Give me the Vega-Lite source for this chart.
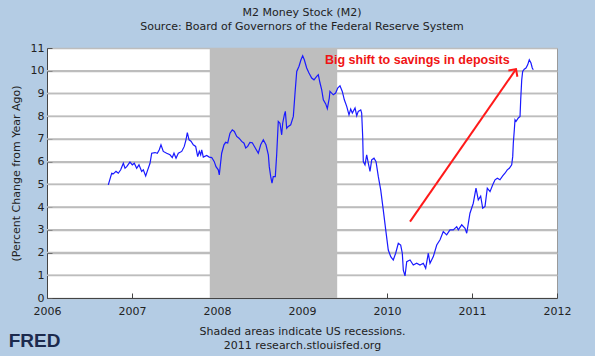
{
  "$schema": "https://vega.github.io/schema/vega-lite/v6.json",
  "width": 510,
  "height": 250,
  "autosize": {"type": "none"},
  "padding": {"left": 47, "top": 48, "right": 38, "bottom": 58},
  "background": "#b4cce4",
  "title": {
    "text": "M2 Money Stock (M2)",
    "subtitle": "Source: Board of Governors of the Federal Reserve System",
    "anchor": "middle",
    "font": "DejaVu Sans",
    "fontSize": 11,
    "fontWeight": "normal",
    "color": "#222222",
    "subtitleFont": "DejaVu Sans",
    "subtitleFontSize": 11,
    "subtitleColor": "#222222",
    "subtitlePadding": 3,
    "offset": 10
  },
  "config": {
    "font": "DejaVu Sans",
    "view": {"fill": "white", "stroke": "#9a9a9a", "strokeWidth": 1},
    "axisX": {
      "format": "d",
      "grid": false,
      "tickSize": -5,
      "tickColor": "#444444",
      "domainColor": "#444444",
      "labelFont": "DejaVu Sans",
      "labelFontSize": 11,
      "labelColor": "#222222",
      "labelPadding": 12,
      "labelFlush": false,
      "labelOverlap": false,
      "titleFont": "DejaVu Sans",
      "titleFontSize": 11,
      "titleFontWeight": "normal",
      "titleColor": "#222222",
      "titleLineHeight": 14,
      "titlePadding": 9
    },
    "axisY": {
      "format": "d",
      "grid": true,
      "gridColor": "#bdbdbd",
      "gridWidth": 1.5,
      "tickSize": -5,
      "tickColor": "#555555",
      "domainColor": "#444444",
      "labelFont": "DejaVu Sans",
      "labelFontSize": 11,
      "labelColor": "#222222",
      "labelPadding": 8,
      "labelOverlap": false,
      "titleFont": "DejaVu Sans",
      "titleFontSize": 11,
      "titleFontWeight": "normal",
      "titleColor": "#222222",
      "titlePadding": 9
    }
  },
  "datasets": {
    "gridLevels": [
      {"level": 1}, {"level": 2}, {"level": 3}, {"level": 4}, {"level": 5},
      {"level": 6}, {"level": 7}, {"level": 8}, {"level": 9}, {"level": 10}
    ],
    "recessions": [{"start": 2007.915, "end": 2009.414}],
    "m2": [
      {"date": 2006.721, "pct": 4.98}, {"date": 2006.761, "pct": 5.49}, {"date": 2006.780, "pct": 5.46},
      {"date": 2006.812, "pct": 5.57}, {"date": 2006.839, "pct": 5.49}, {"date": 2006.867, "pct": 5.64},
      {"date": 2006.898, "pct": 5.93}, {"date": 2006.918, "pct": 5.71}, {"date": 2006.938, "pct": 5.78},
      {"date": 2006.976, "pct": 5.98}, {"date": 2007.004, "pct": 5.86}, {"date": 2007.027, "pct": 5.93},
      {"date": 2007.055, "pct": 5.71}, {"date": 2007.082, "pct": 5.86}, {"date": 2007.114, "pct": 5.57},
      {"date": 2007.133, "pct": 5.64}, {"date": 2007.161, "pct": 5.37}, {"date": 2007.185, "pct": 5.64},
      {"date": 2007.212, "pct": 5.93}, {"date": 2007.232, "pct": 6.37}, {"date": 2007.271, "pct": 6.40},
      {"date": 2007.298, "pct": 6.37}, {"date": 2007.321, "pct": 6.52}, {"date": 2007.341, "pct": 6.74},
      {"date": 2007.368, "pct": 6.45}, {"date": 2007.408, "pct": 6.37}, {"date": 2007.447, "pct": 6.30},
      {"date": 2007.474, "pct": 6.18}, {"date": 2007.494, "pct": 6.37}, {"date": 2007.518, "pct": 6.15},
      {"date": 2007.545, "pct": 6.37}, {"date": 2007.585, "pct": 6.45}, {"date": 2007.615, "pct": 6.67},
      {"date": 2007.635, "pct": 6.96}, {"date": 2007.651, "pct": 7.28}, {"date": 2007.671, "pct": 6.96},
      {"date": 2007.694, "pct": 6.90}, {"date": 2007.721, "pct": 6.74}, {"date": 2007.749, "pct": 6.67},
      {"date": 2007.773, "pct": 6.22}, {"date": 2007.792, "pct": 6.45}, {"date": 2007.808, "pct": 6.30},
      {"date": 2007.820, "pct": 6.52}, {"date": 2007.839, "pct": 6.20}, {"date": 2007.879, "pct": 6.27},
      {"date": 2007.909, "pct": 6.20}, {"date": 2007.938, "pct": 6.18}, {"date": 2007.968, "pct": 6.00},
      {"date": 2007.988, "pct": 5.78}, {"date": 2008.015, "pct": 5.64}, {"date": 2008.027, "pct": 5.42},
      {"date": 2008.055, "pct": 6.37}, {"date": 2008.082, "pct": 6.74}, {"date": 2008.102, "pct": 6.85},
      {"date": 2008.126, "pct": 6.82}, {"date": 2008.153, "pct": 7.25}, {"date": 2008.180, "pct": 7.40},
      {"date": 2008.204, "pct": 7.33}, {"date": 2008.232, "pct": 7.11}, {"date": 2008.259, "pct": 7.03},
      {"date": 2008.291, "pct": 6.89}, {"date": 2008.318, "pct": 6.81}, {"date": 2008.338, "pct": 6.60},
      {"date": 2008.361, "pct": 6.67}, {"date": 2008.388, "pct": 6.85}, {"date": 2008.415, "pct": 6.83},
      {"date": 2008.447, "pct": 6.62}, {"date": 2008.486, "pct": 6.37}, {"date": 2008.514, "pct": 6.74},
      {"date": 2008.545, "pct": 6.96}, {"date": 2008.576, "pct": 6.74}, {"date": 2008.604, "pct": 6.30},
      {"date": 2008.615, "pct": 5.78}, {"date": 2008.632, "pct": 5.34}, {"date": 2008.647, "pct": 5.05},
      {"date": 2008.662, "pct": 5.34}, {"date": 2008.686, "pct": 5.34}, {"date": 2008.702, "pct": 6.30},
      {"date": 2008.721, "pct": 7.77}, {"date": 2008.741, "pct": 7.69}, {"date": 2008.761, "pct": 7.18},
      {"date": 2008.773, "pct": 7.69}, {"date": 2008.792, "pct": 8.06}, {"date": 2008.804, "pct": 8.21},
      {"date": 2008.820, "pct": 7.47}, {"date": 2008.839, "pct": 7.55}, {"date": 2008.867, "pct": 7.62},
      {"date": 2008.898, "pct": 7.99}, {"date": 2008.918, "pct": 9.02}, {"date": 2008.938, "pct": 9.97},
      {"date": 2008.965, "pct": 10.20}, {"date": 2008.988, "pct": 10.48}, {"date": 2009.008, "pct": 10.66},
      {"date": 2009.027, "pct": 10.48}, {"date": 2009.055, "pct": 10.12}, {"date": 2009.082, "pct": 9.90},
      {"date": 2009.114, "pct": 9.68}, {"date": 2009.141, "pct": 9.60}, {"date": 2009.173, "pct": 9.75},
      {"date": 2009.192, "pct": 9.82}, {"date": 2009.212, "pct": 9.46}, {"date": 2009.232, "pct": 9.16},
      {"date": 2009.251, "pct": 8.72}, {"date": 2009.279, "pct": 8.54}, {"date": 2009.298, "pct": 8.33},
      {"date": 2009.321, "pct": 8.80}, {"date": 2009.329, "pct": 9.09}, {"date": 2009.368, "pct": 8.94},
      {"date": 2009.396, "pct": 9.02}, {"date": 2009.420, "pct": 9.24}, {"date": 2009.447, "pct": 9.34},
      {"date": 2009.474, "pct": 9.09}, {"date": 2009.498, "pct": 8.72}, {"date": 2009.526, "pct": 8.43},
      {"date": 2009.553, "pct": 8.06}, {"date": 2009.573, "pct": 8.31}, {"date": 2009.592, "pct": 8.14},
      {"date": 2009.624, "pct": 8.36}, {"date": 2009.644, "pct": 8.02}, {"date": 2009.662, "pct": 8.21},
      {"date": 2009.691, "pct": 8.28}, {"date": 2009.702, "pct": 8.14}, {"date": 2009.714, "pct": 7.11},
      {"date": 2009.721, "pct": 6.00}, {"date": 2009.741, "pct": 5.86}, {"date": 2009.761, "pct": 6.30},
      {"date": 2009.780, "pct": 5.93}, {"date": 2009.800, "pct": 5.57}, {"date": 2009.820, "pct": 6.08},
      {"date": 2009.847, "pct": 6.15}, {"date": 2009.871, "pct": 6.00}, {"date": 2009.898, "pct": 5.34},
      {"date": 2009.926, "pct": 4.76}, {"date": 2009.956, "pct": 3.88}, {"date": 2009.985, "pct": 3.00},
      {"date": 2010.015, "pct": 2.11}, {"date": 2010.044, "pct": 1.82}, {"date": 2010.074, "pct": 1.67},
      {"date": 2010.102, "pct": 1.97}, {"date": 2010.133, "pct": 2.41}, {"date": 2010.161, "pct": 2.33},
      {"date": 2010.180, "pct": 1.97}, {"date": 2010.192, "pct": 1.23}, {"date": 2010.212, "pct": 0.97},
      {"date": 2010.232, "pct": 1.60}, {"date": 2010.271, "pct": 1.67}, {"date": 2010.309, "pct": 1.45},
      {"date": 2010.349, "pct": 1.53}, {"date": 2010.388, "pct": 1.45}, {"date": 2010.427, "pct": 1.53},
      {"date": 2010.455, "pct": 1.31}, {"date": 2010.486, "pct": 1.97}, {"date": 2010.506, "pct": 1.53},
      {"date": 2010.545, "pct": 1.82}, {"date": 2010.585, "pct": 2.33}, {"date": 2010.624, "pct": 2.56},
      {"date": 2010.662, "pct": 2.92}, {"date": 2010.702, "pct": 2.78}, {"date": 2010.741, "pct": 3.00},
      {"date": 2010.780, "pct": 3.00}, {"date": 2010.820, "pct": 3.14}, {"date": 2010.839, "pct": 3.00},
      {"date": 2010.879, "pct": 3.22}, {"date": 2010.918, "pct": 3.07}, {"date": 2010.938, "pct": 2.85},
      {"date": 2010.976, "pct": 3.73}, {"date": 2011.015, "pct": 4.17}, {"date": 2011.047, "pct": 4.83},
      {"date": 2011.074, "pct": 4.32}, {"date": 2011.102, "pct": 4.48}, {"date": 2011.126, "pct": 3.95},
      {"date": 2011.153, "pct": 4.03}, {"date": 2011.180, "pct": 4.83}, {"date": 2011.212, "pct": 4.68},
      {"date": 2011.244, "pct": 4.98}, {"date": 2011.271, "pct": 5.20}, {"date": 2011.298, "pct": 5.27},
      {"date": 2011.329, "pct": 5.20}, {"date": 2011.361, "pct": 5.37}, {"date": 2011.388, "pct": 5.49},
      {"date": 2011.415, "pct": 5.64}, {"date": 2011.439, "pct": 5.71}, {"date": 2011.467, "pct": 5.86},
      {"date": 2011.479, "pct": 6.22}, {"date": 2011.486, "pct": 6.81}, {"date": 2011.498, "pct": 7.40},
      {"date": 2011.506, "pct": 7.84}, {"date": 2011.518, "pct": 7.77}, {"date": 2011.545, "pct": 7.92},
      {"date": 2011.565, "pct": 7.99}, {"date": 2011.573, "pct": 8.72}, {"date": 2011.585, "pct": 9.60},
      {"date": 2011.596, "pct": 9.97}, {"date": 2011.615, "pct": 10.07}, {"date": 2011.635, "pct": 10.12},
      {"date": 2011.655, "pct": 10.26}, {"date": 2011.674, "pct": 10.48}, {"date": 2011.694, "pct": 10.34},
      {"date": 2011.709, "pct": 10.12}, {"date": 2011.721, "pct": 10.04}
    ],
    "arrow": [{"fromDate": 2010.271, "fromPct": 3.36, "toDate": 2011.518, "toPct": 10.07}],
    "note": [{"date": 2009.27, "pct": 10.48, "label": "Big shift to savings in deposits"}]
  },
  "layer": [
    {
      "data": {"name": "gridLevels"},
      "mark": {"type": "rule", "color": "#bdbdbd", "strokeWidth": 1.5},
      "encoding": {
        "y": {"field": "level", "type": "quantitative",
              "scale": {"domain": [0, 11], "nice": false},
              "axis": {"values": [0, 1, 2, 3, 4, 5, 6, 7, 8, 9, 10, 11], "grid": true, "title": "(Percent Change from Year Ago)"}}
      }
    },
    {
      "data": {"name": "recessions"},
      "mark": {"type": "rect", "color": "#bebebe"},
      "encoding": {
        "x": {"field": "start", "type": "quantitative",
              "scale": {"domain": [2006, 2012], "nice": false, "zero": false},
              "axis": {"values": [2006, 2007, 2008, 2009, 2010, 2011, 2012], "title": ["Shaded areas indicate US recessions.", "2011 research.stlouisfed.org"]}},
        "x2": {"field": "end"}
      }
    },
    {
      "data": {"name": "m2"},
      "mark": {"type": "line", "color": "#1a1aff", "strokeWidth": 1.2},
      "encoding": {
        "x": {"field": "date", "type": "quantitative",
              "scale": {"domain": [2006, 2012], "nice": false, "zero": false},
              "axis": {"values": [2006, 2007, 2008, 2009, 2010, 2011, 2012], "title": ["Shaded areas indicate US recessions.", "2011 research.stlouisfed.org"]}},
        "y": {"field": "pct", "type": "quantitative",
              "scale": {"domain": [0, 11], "nice": false},
              "axis": {"values": [0, 1, 2, 3, 4, 5, 6, 7, 8, 9, 10, 11], "grid": true, "title": "(Percent Change from Year Ago)"}}
      }
    },
    {
      "data": {"name": "arrow"},
      "mark": {"type": "rule", "color": "#ff1a1a", "strokeWidth": 2},
      "encoding": {
        "x": {"field": "fromDate", "type": "quantitative",
              "axis": {"values": [2006, 2007, 2008, 2009, 2010, 2011, 2012], "title": ["Shaded areas indicate US recessions.", "2011 research.stlouisfed.org"]}},
        "y": {"field": "fromPct", "type": "quantitative",
              "axis": {"values": [0, 1, 2, 3, 4, 5, 6, 7, 8, 9, 10, 11], "grid": true, "title": "(Percent Change from Year Ago)"}},
        "x2": {"field": "toDate"},
        "y2": {"field": "toPct"}
      }
    },
    {
      "data": {"name": "arrow"},
      "mark": {
        "type": "point",
        "shape": "M-1,1L0,0L1,1",
        "filled": false,
        "color": "#ff1a1a",
        "strokeWidth": 2,
        "size": 120,
        "angle": 35,
        "opacity": 1
      },
      "encoding": {
        "x": {"field": "toDate", "type": "quantitative",
              "axis": {"values": [2006, 2007, 2008, 2009, 2010, 2011, 2012], "title": ["Shaded areas indicate US recessions.", "2011 research.stlouisfed.org"]}},
        "y": {"field": "toPct", "type": "quantitative",
              "axis": {"values": [0, 1, 2, 3, 4, 5, 6, 7, 8, 9, 10, 11], "grid": true, "title": "(Percent Change from Year Ago)"}}
      }
    },
    {
      "data": {"name": "note"},
      "mark": {
        "type": "text",
        "font": "Liberation Sans",
        "fontWeight": "bold",
        "fontSize": 12.5,
        "color": "#f01414",
        "align": "left",
        "baseline": "middle"
      },
      "encoding": {
        "x": {"field": "date", "type": "quantitative",
              "axis": {"values": [2006, 2007, 2008, 2009, 2010, 2011, 2012], "title": ["Shaded areas indicate US recessions.", "2011 research.stlouisfed.org"]}},
        "y": {"field": "pct", "type": "quantitative",
              "axis": {"values": [0, 1, 2, 3, 4, 5, 6, 7, 8, 9, 10, 11], "grid": true, "title": "(Percent Change from Year Ago)"}},
        "text": {"field": "label"}
      }
    },
    {
      "data": {"values": [{"label": "FRED"}]},
      "mark": {
        "type": "text",
        "font": "Liberation Sans",
        "fontWeight": "bold",
        "fontSize": 19,
        "color": "#1c2a4d",
        "align": "left",
        "baseline": "middle"
      },
      "encoding": {
        "x": {"datum": 2005.55, "type": "quantitative",
              "axis": {"values": [2006, 2007, 2008, 2009, 2010, 2011, 2012], "title": ["Shaded areas indicate US recessions.", "2011 research.stlouisfed.org"]}},
        "y": {"datum": -1.9, "type": "quantitative",
              "axis": {"values": [0, 1, 2, 3, 4, 5, 6, 7, 8, 9, 10, 11], "grid": true, "title": "(Percent Change from Year Ago)"}},
        "text": {"field": "label"}
      }
    }
  ]
}
